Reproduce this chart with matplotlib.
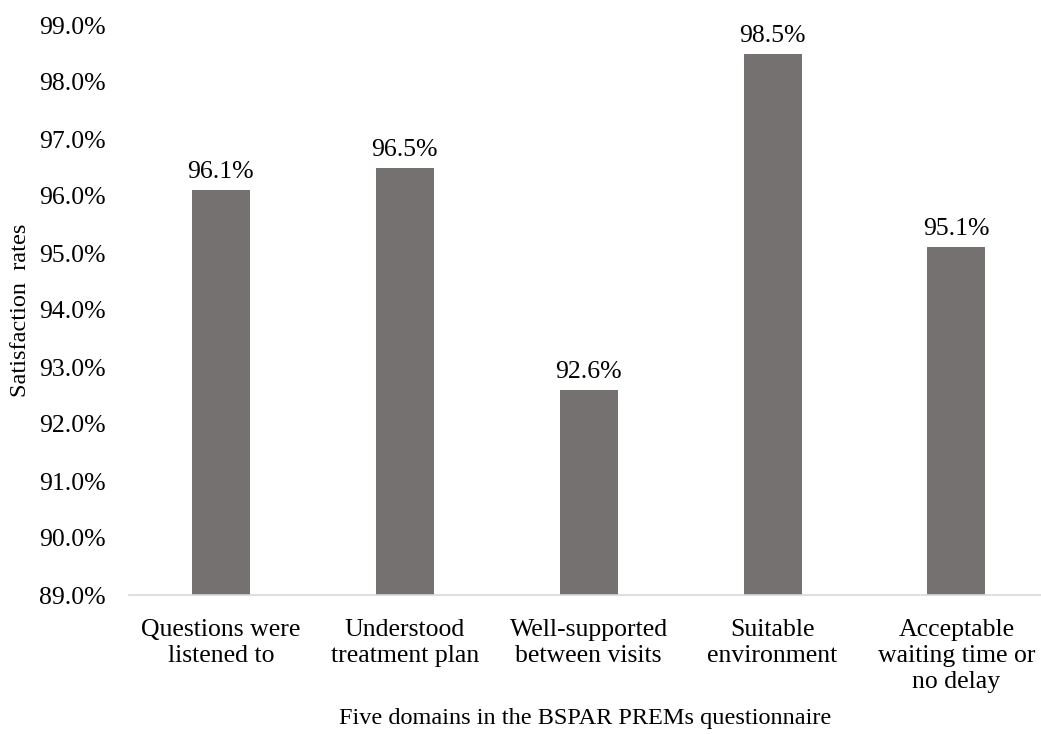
import matplotlib
matplotlib.use("Agg")
import matplotlib.pyplot as plt
from matplotlib.ticker import FuncFormatter

categories = ["Questions were\nlistened to", "Understood\ntreatment plan",
              "Well-supported\nbetween visits", "Suitable\nenvironment",
              "Acceptable\nwaiting time or\nno delay"]
rates = [96.1, 96.5, 92.6, 98.5, 95.1]
yticks = [89, 90, 91, 92, 93, 94, 95, 96, 97, 98, 99]

plt.rcParams['font.family'] = ['Liberation Serif', 'DejaVu Serif']

W, H = 1041, 734
fig = plt.figure(figsize=(W / 100, H / 100), dpi=100)
ax = fig.add_axes((129 / W, 1 - 595 / H, (W - 129) / W, (595 - 25) / H))

x = range(len(categories))
ax.bar(x, [r - 89 for r in rates], bottom=89, width=0.315, color='#767171')
for i, r in enumerate(rates):
    ax.text(i, r + 0.12, f"{r:.1f}%", ha='center', va='bottom', fontsize=18.5)

ax.set_xlim(-0.5, 4.46)
ax.set_ylim(89, 99)
ax.set_yticks(yticks)
ax.yaxis.set_major_formatter(FuncFormatter(lambda v, p: f"{v:.1f}%"))
ax.set_xticks(list(x))
ax.set_xticklabels(categories, fontsize=18.5, linespacing=1.25)
ax.tick_params(axis='y', length=0, labelsize=18.5, pad=16.5)
ax.tick_params(axis='x', length=0, pad=17)

for s in ['top', 'right', 'left']:
    ax.spines[s].set_visible(False)
ax.spines['bottom'].set_color('#d9d9d9')
ax.spines['bottom'].set_linewidth(1.2)

ax.set_ylabel("Satisfaction  rates", fontsize=17.5)
ax.yaxis.set_label_coords(-0.108, 0.5)
ax.set_xlabel("Five domains in the BSPAR PREMs questionnaire", fontsize=17.5, labelpad=11)

fig.savefig("out.png", dpi=100)
